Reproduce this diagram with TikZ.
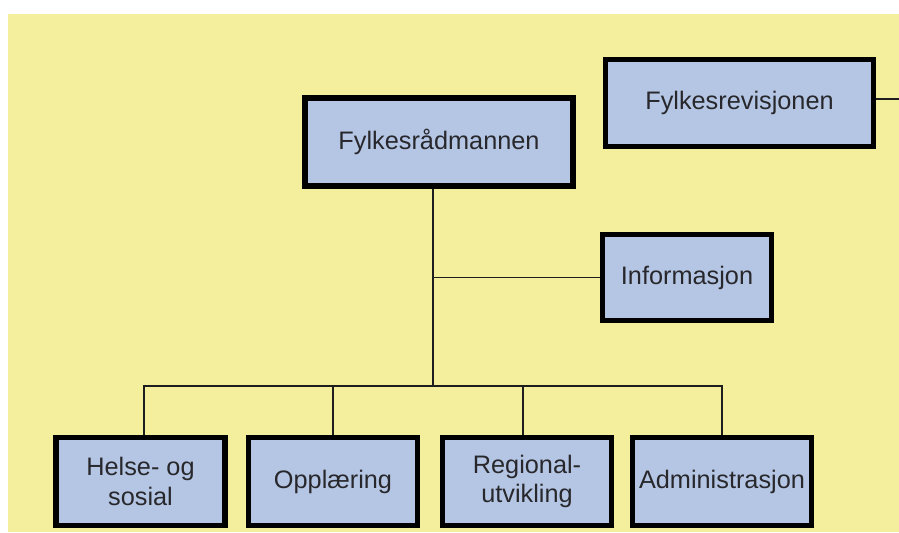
\documentclass[tikz,border=0pt]{standalone}
\usepackage{fontspec}
\setmainfont{Liberation Sans}
\usepackage{xcolor}
\usetikzlibrary{positioning,calc}
\definecolor{orgYellow}{RGB}{244,239,157}
\definecolor{orgBlue}{RGB}{180,198,228}
\definecolor{orgText}{RGB}{40,40,44}
\definecolor{orgLine}{RGB}{30,30,30}

\begin{document}
\begin{tikzpicture}[
  x=0.02cm, y=-0.02cm,
  font=\fontsize{14.4}{17}\selectfont,
  unit/.style={draw=black, line width=2.9pt, fill=orgBlue, text=orgText, align=center, inner sep=0pt},
  wide/.style={unit, minimum width=5.36cm, minimum height=1.76cm},
  dept/.style={unit, minimum width=3.38cm, minimum height=1.76cm},
  link/.style={draw=orgLine, line width=1.1pt}
]

%============ FRAME ============
\useasboundingbox (0,0) rectangle (899,532);
\fill[white] (0,0) rectangle (899,532);
\fill[orgYellow] (8,14) rectangle (899,532);

%============ TOP ============
\node[wide] (chief) at (439,142) {Fylkesrådmannen};
\node[wide, minimum height=1.74cm] (audit) at (739.5,103) {Fylkesrevisjonen};
\node[dept, minimum height=1.72cm] (info) at (687,277.5) {Informasjon};

%============ DEPARTMENTS ============
\node[dept] (health) at (140.5,481.5) {Helse- og\\sosial};
\node[dept] (school) at (333,481.5) {Opplæring};
\node[dept] (region) at (527,481.5) {Regional-\\utvikling};
\node[dept, minimum width=3.58cm] (admin) at (722,481.5) {Administrasjon};

% bus and stubs
\coordinate (bus) at (433,386);
\coordinate (edge) at (899,99);
\draw[link] (chief.south -| bus) -- (bus);
\draw[link] (bus |- info.west) -- (info.west);
\draw[link] (audit.east |- edge) -- (edge);
\draw[link] ([xshift=3.5*0.02cm]health.north) |- (admin.north |- bus) -- (admin.north);
\draw[link] (school.north) -- (school.north |- bus);
\draw[link] ([xshift=-4*0.02cm]region.north) -- ([xshift=-4*0.02cm]region.north |- bus);

\end{tikzpicture}
\end{document}
